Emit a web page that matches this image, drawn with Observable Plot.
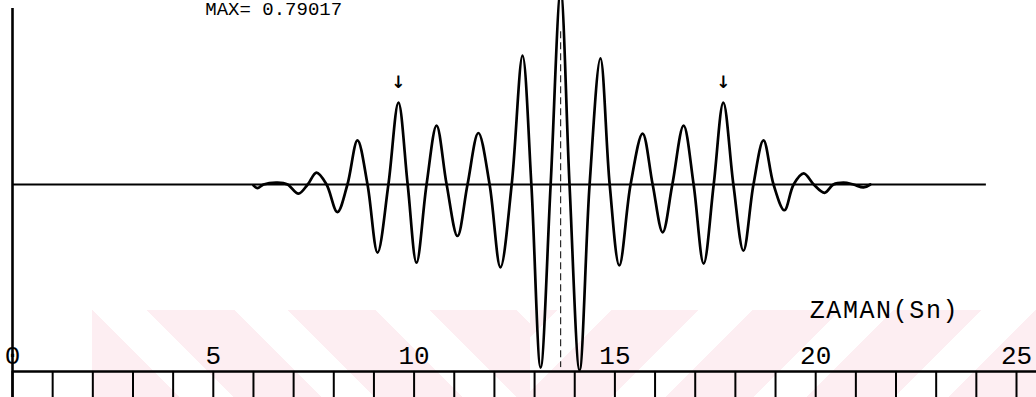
<!DOCTYPE html>
<html>
<head>
<meta charset="utf-8">
<script src="https://cdn.jsdelivr.net/npm/d3@7"></script>
<script src="https://cdn.jsdelivr.net/npm/@observablehq/plot@0.6"></script>
<style>
  body { margin: 0; background: #fff; overflow: hidden; }
  #wrap { position: relative; width: 1036px; height: 397px; overflow: hidden; }
  .wm { position: absolute; top: 310px; height: 87px; }
  #chart { position: absolute; left: 0; top: 0; }
</style>
</head>
<body>
<div id="wrap">
  <div class="wm" style="left:92px;width:438px;background:repeating-linear-gradient(45deg,#fdeef2 0 62px,rgba(255,255,255,0) 62px 100px);"></div>
  <div class="wm" style="left:530px;width:506px;background:repeating-linear-gradient(-45deg,#fdeef2 0 62px,rgba(255,255,255,0) 62px 100px);"></div>
  <div id="chart"></div>
</div>
<script>
// ---- data ----
const time = [6.00,6.10,6.25,6.60,6.85,7.12,7.35,7.57,7.82,8.09,8.34,8.59,8.84,9.09,9.36,9.61,9.84,
  10.06,10.31,10.56,10.81,11.08,11.33,11.60,11.88,12.15,12.43,12.70,12.92,13.15,13.40,13.65,13.87,
  14.12,14.37,14.64,14.87,15.11,15.39,15.69,15.94,16.19,16.43,16.71,16.96,17.21,17.46,17.70,17.95,
  18.20,18.45,18.70,18.95,19.22,19.45,19.70,19.95,20.22,20.44,20.69,20.94,21.19,21.36];
const amplitude = [-0.005,-0.02,0,0.01,0,-0.05,0,0.065,0,-0.15,0,0.24,0,-0.37,0,0.445,0,
  -0.425,0,0.32,0,-0.28,0,0.28,0,-0.45,0,0.70,0,-0.995,0,1.05,0,
  -1.01,0,0.685,0,-0.44,0,0.277,0,-0.26,0,0.32,0,-0.43,0,0.445,0,
  -0.36,0,0.24,0,-0.14,0,0.06,0,-0.045,0,0.01,0,-0.016,0];
const unitTicks = [0,1,2,3,4,5,6,7,8,9,10,11,12,13,14,15,16,17,18,19,20,21,22,23,24,25];
const tickLabels = [0,5,10,15,20,25];
const markedPeakTimes = [9.61, 17.70];
const markedPeakValues = [0.445, 0.445];
const centerTime = [13.65];
const xLabel = "ZAMAN(Sn)";
const topNote = "MAX= 0.79017";

const wave = time.map((t, i) => ({t, v: amplitude[i]}));
const peaks = markedPeakTimes.map((t, i) => ({t, v: markedPeakValues[i]}));

const axisLevel = -1.016, tickEnd = -1.17, font = "Liberation Mono, Courier New, monospace";

const chart = Plot.plot({
  width: 1036,
  height: 397,
  margin: 0,
  style: {background: "transparent", overflow: "visible"},
  x: {domain: [0, 25], range: [12, 1016], axis: null},
  y: {domain: [-1, 1], range: [368, 0], axis: null},
  marks: [
    Plot.ruleX([0], {y1: 0.957, y2: tickEnd, stroke: "#000", strokeWidth: 2.6}),
    Plot.ruleY([axisLevel], {x1: 0, x2: 25.6, stroke: "#000", strokeWidth: 2.4}),
    Plot.ruleX(unitTicks, {x: d => d, y1: axisLevel, y2: tickEnd, stroke: "#000", strokeWidth: 2}),
    Plot.text(tickLabels, {x: d => d, y: -0.973, text: d => String(d), lineAnchor: "bottom",
      fontSize: 26, fontFamily: font, fill: "#000"}),
    Plot.ruleY([0], {x1: 0, x2: 24.25, stroke: "#000", strokeWidth: 2.2}),
    Plot.ruleX(centerTime, {x: d => d, y1: 0.83, y2: -0.995, stroke: "#000", strokeWidth: 1, strokeDasharray: "7,4"}),
    Plot.line(wave, {x: "t", y: "v", curve: "catmull-rom", stroke: "#000", strokeWidth: 2.7}),
    Plot.text(peaks, {x: "t", y: "v", text: () => "↓", dy: -20, fontSize: 17, fontWeight: "bold",
      fontFamily: "DejaVu Sans", fill: "#000"}),
    Plot.text([xLabel], {x: 19.85, y: -0.728, text: d => d, textAnchor: "start", lineAnchor: "bottom",
      fontSize: 25, fontFamily: font, fill: "#000"}),
    Plot.text([topNote], {x: 4.8, y: 0.92, text: d => d, textAnchor: "start", lineAnchor: "bottom",
      fontSize: 19, fontFamily: font, fill: "#000"})
  ]
});
chart.querySelectorAll("text").forEach(t => {
  if (t.textContent === xLabel) t.style.letterSpacing = "1.6px";
});
document.getElementById("chart").appendChild(chart);
</script>
</body>
</html>
